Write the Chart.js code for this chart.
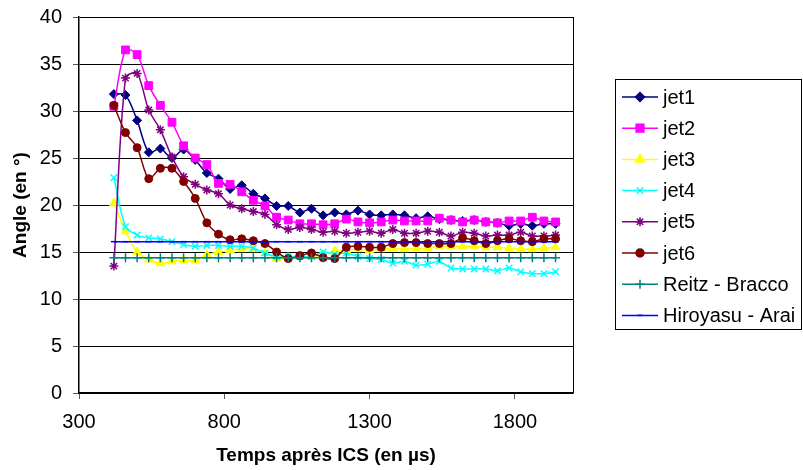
<!DOCTYPE html>
<html>
<head>
<meta charset="utf-8">
<script src="https://cdn.jsdelivr.net/npm/chart.js@4.4.0/dist/chart.umd.min.js"></script>
<style>
  html, body { margin: 0; padding: 0; background: #fff; }
  #wrap { width: 803px; height: 470px; }
</style>
</head>
<body>
<div id="wrap"><canvas id="grafic"></canvas></div>
<script>
// temps (µs)
var times = [420, 460, 500, 540, 580, 620, 660, 700, 740, 780, 820, 860, 900, 940, 980,
  1020, 1060, 1100, 1140, 1180, 1220, 1260, 1300, 1340, 1380, 1420, 1460, 1500, 1540,
  1580, 1620, 1660, 1700, 1740, 1780, 1820, 1860, 1900, 1940];

var jet1 = [31.8, 31.7, 29.0, 25.6, 26.0, 25.0, 25.9, 24.8, 23.4, 22.8, 21.7, 22.1, 21.2, 20.7, 19.9,
  19.9, 19.2, 19.6, 18.9, 19.2, 19.0, 19.4, 19.0, 18.9, 19.0, 18.9, 18.6, 18.8, 18.5,
  18.4, 18.3, 18.4, 18.2, 18.1, 17.8, 18.0, 17.8, 18.0, 18.0];
var jet2 = [30.5, 36.5, 36.0, 32.7, 30.6, 28.8, 26.3, 25.0, 24.3, 22.3, 22.2, 21.4, 20.5, 19.9, 18.7,
  18.4, 18.0, 18.0, 17.9, 18.0, 18.5, 18.2, 18.1, 18.2, 18.4, 18.3, 18.3, 18.3, 18.6,
  18.4, 18.2, 18.4, 18.2, 18.1, 18.3, 18.3, 18.7, 18.3, 18.2];
var jet3 = [20.2, 17.2, 15.0, 14.2, 13.8, 14.0, 14.1, 14.1, 14.7, 15.0, 15.2, 15.3, 15.3, 14.9, 14.3,
  14.4, 14.6, 14.5, 14.7, 15.1, 15.2, 15.3, 15.2, 15.3, 15.4, 15.3, 15.4, 15.4, 15.6,
  15.6, 15.6, 15.6, 15.5, 15.5, 15.4, 15.3, 15.3, 15.4, 15.5];
var jet4 = [22.9, 17.7, 16.8, 16.5, 16.4, 16.1, 15.8, 15.6, 15.7, 15.7, 15.6, 15.6, 15.4, 14.9, 14.5,
  14.5, 14.5, 14.5, 15.0, 14.8, 14.9, 14.5, 14.3, 14.2, 13.8, 14.0, 13.6, 13.7, 14.0,
  13.3, 13.2, 13.2, 13.2, 13.0, 13.3, 12.9, 12.7, 12.7, 12.9];
var jet5 = [13.5, 33.5, 34.0, 30.1, 28.0, 25.1, 23.0, 22.2, 21.6, 21.2, 20.0, 19.6, 19.3, 19.0, 17.9,
  17.4, 17.6, 17.4, 17.1, 17.2, 17.0, 17.1, 17.2, 17.0, 17.4, 17.0, 17.0, 17.2, 17.1,
  16.7, 17.1, 17.0, 16.7, 16.8, 16.8, 17.1, 16.7, 16.7, 16.8];
var jet6 = [30.6, 27.7, 26.1, 22.8, 23.9, 23.9, 22.5, 20.7, 18.1, 16.9, 16.3, 16.4, 16.2, 15.9, 15.0,
  14.3, 14.6, 14.9, 14.4, 14.3, 15.5, 15.6, 15.5, 15.5, 15.9, 16.0, 16.0, 15.9, 15.9,
  15.9, 16.5, 16.2, 15.9, 16.2, 16.4, 16.2, 16.1, 16.4, 16.4];
var reitzBracco = [14.4, 14.4, 14.4, 14.4, 14.4, 14.4, 14.4, 14.4, 14.4, 14.4, 14.4, 14.4, 14.4, 14.4, 14.4,
  14.4, 14.4, 14.4, 14.4, 14.4, 14.4, 14.4, 14.4, 14.4, 14.4, 14.4, 14.4, 14.4, 14.4,
  14.4, 14.4, 14.4, 14.4, 14.4, 14.4, 14.4, 14.4, 14.4, 14.4];
var hiroyasuArai = [16.1, 16.1, 16.1, 16.1, 16.1, 16.1, 16.1, 16.1, 16.1, 16.1, 16.1, 16.1, 16.1, 16.1, 16.1,
  16.1, 16.1, 16.1, 16.1, 16.1, 16.1, 16.1, 16.1, 16.1, 16.1, 16.1, 16.1, 16.1, 16.1,
  16.1, 16.1, 16.1, 16.1, 16.1, 16.1, 16.1, 16.1, 16.1, 16.1];

var seriesNames = ["jet1", "jet2", "jet3", "jet4", "jet5", "jet6", "Reitz - Bracco", "Hiroyasu - Arai"];
var xTicks = [300, 800, 1300, 1800];
var yTicks = [0, 5, 10, 15, 20, 25, 30, 35, 40];

function pts(values) {
  return times.map(function (t, i) { return { x: t, y: values[i] }; });
}

function makeSet(i, values, color, style, radius) {
  return {
    label: seriesNames[i],
    data: pts(values),
    borderColor: color,
    backgroundColor: color,
    pointBackgroundColor: color,
    pointBorderColor: color,
    pointStyle: style,
    pointRadius: radius,
    pointBorderWidth: style === "cross" || style === "crossRot" || style === "star" || style === "line" ? 1.5 : 1,
    borderWidth: 1.5,
    tension: 0.3,
    order: 10 - i
  };
}

// cadre + légende dessinés à la main
var excelLegend = {
  id: "excelLegend",
  afterDatasetsDraw: function (chart) {
    let ctx = chart.ctx;
    let a = chart.chartArea;
    ctx.save();
    ctx.strokeStyle = "#000";
    ctx.lineWidth = 1;
    ctx.beginPath();
    ctx.moveTo(Math.round(a.right) + 0.5, a.top);
    ctx.lineTo(Math.round(a.right) + 0.5, a.bottom);
    ctx.stroke();
    ctx.restore();
  },
  afterDraw: function (chart) {
    let ctx = chart.ctx;
    ctx.save();
    ctx.strokeStyle = "#000";
    ctx.lineWidth = 1;
    ctx.strokeRect(615.5, 79.5, 186, 250);
    ctx.font = "20px 'Liberation Sans', Arial, sans-serif";
    ctx.textBaseline = "middle";
    chart.data.datasets.forEach(function (ds, i) {
      let y = 97 + i * 31.2;
      ctx.strokeStyle = ds.borderColor;
      ctx.fillStyle = ds.borderColor;
      ctx.lineWidth = 1.5;
      ctx.beginPath();
      ctx.moveTo(622, y);
      ctx.lineTo(658, y);
      ctx.stroke();
      Chart.helpers.drawPoint(ctx, {
        pointStyle: ds.pointStyle,
        radius: ds.pointRadius,
        rotation: 0,
        borderWidth: ds.pointBorderWidth
      }, 640, y);
      ctx.fillStyle = "#000";
      ctx.fillText(ds.label, 663, y + 1);
    });
    ctx.restore();
  }
};

window.onload = function () {
  var ctx = document.getElementById("grafic").getContext("2d");
  new Chart(ctx, {
    type: "line",
    data: {
      datasets: [
        makeSet(0, jet1, "#000080", "rectRot", 4.5),
        makeSet(1, jet2, "#FF00FF", "rect", 5.5),
        makeSet(2, jet3, "#FFFF00", "triangle", 5),
        makeSet(3, jet4, "#00FFFF", "crossRot", 4.5),
        makeSet(4, jet5, "#800080", "star", 4.5),
        makeSet(5, jet6, "#800000", "circle", 4),
        makeSet(6, reitzBracco, "#008080", "cross", 4.5),
        makeSet(7, hiroyasuArai, "#0000FF", "line", 3)
      ]
    },
    options: {
      responsive: true,
      maintainAspectRatio: false,
      animation: false,
      layout: { padding: { top: 17, right: 230, left: 0, bottom: 0 } },
      plugins: {
        legend: { display: false },
        tooltip: { enabled: false }
      },
      scales: {
        x: {
          type: "linear",
          min: 300,
          max: 2000,
          afterBuildTicks: function (scale) {
            scale.ticks = xTicks.map(function (v) { return { value: v }; });
          },
          afterFit: function (scale) { scale.height = 77; },
          grid: { drawOnChartArea: false, drawTicks: true, tickLength: 6, tickColor: "#555" },
          border: { color: "#000", width: 1.5 },
          ticks: {
            color: "#000",
            padding: 11,
            maxRotation: 0,
            callback: function (v) { return String(v); },
            font: { family: "'Liberation Sans', Arial, sans-serif", size: 20 }
          },
          title: {
            display: true,
            text: "Temps après ICS (en µs)",
            color: "#000",
            padding: { top: 0, bottom: 3 },
            font: { family: "'Liberation Sans', Arial, sans-serif", size: 19, weight: "bold" }
          }
        },
        y: {
          min: 0,
          max: 40,
          afterBuildTicks: function (scale) {
            scale.ticks = yTicks.map(function (v) { return { value: v }; });
          },
          afterFit: function (scale) {
            scale.width = 79;
            scale.paddingTop = 4;
            scale.paddingBottom = 4;
          },
          grid: { color: "#000", lineWidth: 1, drawTicks: true, tickLength: 6, tickColor: "#555" },
          border: { color: "#000", width: 1.5 },
          ticks: {
            color: "#000",
            padding: 11,
            font: { family: "'Liberation Sans', Arial, sans-serif", size: 20 }
          },
          title: {
            display: true,
            text: "Angle (en °)",
            color: "#000",
            padding: { top: 9, bottom: 0 },
            font: { family: "'Liberation Sans', Arial, sans-serif", size: 19, weight: "bold" }
          }
        }
      }
    },
    plugins: [excelLegend]
  });
};
</script>
</body>
</html>
